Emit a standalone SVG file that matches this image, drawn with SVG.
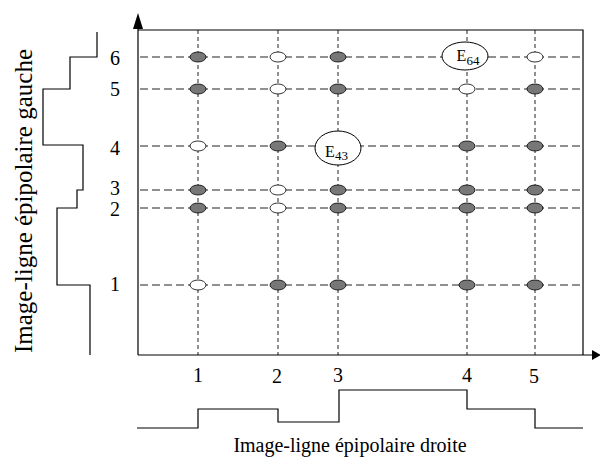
<svg xmlns="http://www.w3.org/2000/svg" width="600" height="458" viewBox="0 0 600 458">
  <style>
    .axis { stroke: #000; stroke-width: 1.2; fill: none; }
    .stair { stroke: #000; stroke-width: 1.2; fill: none; }
    .hgrid { stroke: #222; stroke-width: 1.1; stroke-dasharray: 8 4; fill: none; }
    .vgrid { stroke: #222; stroke-width: 1; stroke-dasharray: 4 3; fill: none; }
    .on { fill: #777; stroke: #000; stroke-width: 0.8; }
    .off { fill: #fff; stroke: #000; stroke-width: 0.8; }
    .big { fill: #fff; stroke: #000; stroke-width: 1; }
    .num { font-family: "Liberation Serif", "DejaVu Serif", serif; font-size: 20px; fill: #000; text-anchor: middle; }
    .title { font-family: "Liberation Serif", "DejaVu Serif", serif; fill: #000; text-anchor: middle; }
    .lbl { font-family: "Liberation Serif", "DejaVu Serif", serif; font-size: 16px; fill: #000; }
    .sub { font-family: "Liberation Serif", "DejaVu Serif", serif; font-size: 13px; fill: #000; }
  </style>

  <!-- grid of candidate matches -->
  <g id="grid">
    <path class="hgrid" d="M140 57H583M140 89H583M140 146H583M140 190H583M140 208H583M140 285H583"/>
    <path class="vgrid" d="M198 30V355M278 30V355M338 30V355M467 30V355M535 30V355"/>
  </g>

  <!-- frame and axes -->
  <g id="axes">
    <path class="axis" d="M138 355V27M138 30H583V355M138 355H593"/>
    <polygon points="138,13 133,29 143,29" fill="#000"/>
    <polygon points="601,355 592,350 592,360" fill="#000"/>
  </g>

  <!-- row 6 -->
  <g id="row6">
    <ellipse class="on" cx="198" cy="57" rx="8" ry="5"/>
    <ellipse class="off" cx="278" cy="57" rx="8" ry="5"/>
    <ellipse class="on" cx="338" cy="57" rx="8" ry="5"/>
    <ellipse class="off" cx="535" cy="57" rx="8" ry="5"/>
  </g>
  <g id="node-E64">
    <ellipse class="big" cx="465" cy="56" rx="23" ry="14"/>
    <text class="lbl" x="456.5" y="61">E</text>
    <text class="sub" x="466.5" y="64.5">64</text>
  </g>
  <!-- row 5 -->
  <g id="row5">
    <ellipse class="on" cx="198" cy="89" rx="8" ry="5"/>
    <ellipse class="off" cx="278" cy="89" rx="8" ry="5"/>
    <ellipse class="on" cx="338" cy="89" rx="8" ry="5"/>
    <ellipse class="off" cx="467" cy="89" rx="8" ry="5"/>
    <ellipse class="on" cx="535" cy="89" rx="8" ry="5"/>
  </g>
  <!-- row 4 -->
  <g id="row4">
    <ellipse class="off" cx="198" cy="146" rx="8" ry="5"/>
    <ellipse class="on" cx="278" cy="146" rx="8" ry="5"/>
    <ellipse class="on" cx="467" cy="146" rx="8" ry="5"/>
    <ellipse class="on" cx="535" cy="146" rx="8" ry="5"/>
  </g>
  <g id="node-E43">
    <ellipse class="big" cx="338" cy="148" rx="23" ry="17"/>
    <text class="lbl" x="325" y="157">E</text>
    <text class="sub" x="335" y="160">43</text>
  </g>
  <!-- row 3 -->
  <g id="row3">
    <ellipse class="on" cx="198" cy="190" rx="8" ry="5"/>
    <ellipse class="off" cx="278" cy="190" rx="8" ry="5"/>
    <ellipse class="on" cx="338" cy="190" rx="8" ry="5"/>
    <ellipse class="on" cx="467" cy="190" rx="8" ry="5"/>
    <ellipse class="on" cx="535" cy="190" rx="8" ry="5"/>
  </g>
  <!-- row 2 -->
  <g id="row2">
    <ellipse class="on" cx="198" cy="208" rx="8" ry="5"/>
    <ellipse class="off" cx="278" cy="208" rx="8" ry="5"/>
    <ellipse class="on" cx="338" cy="208" rx="8" ry="5"/>
    <ellipse class="on" cx="467" cy="208" rx="8" ry="5"/>
    <ellipse class="on" cx="535" cy="208" rx="8" ry="5"/>
  </g>
  <!-- row 1 -->
  <g id="row1">
    <ellipse class="off" cx="198" cy="285" rx="8" ry="5"/>
    <ellipse class="on" cx="278" cy="285" rx="8" ry="5"/>
    <ellipse class="on" cx="338" cy="285" rx="8" ry="5"/>
    <ellipse class="on" cx="467" cy="285" rx="8" ry="5"/>
    <ellipse class="on" cx="535" cy="285" rx="8" ry="5"/>
  </g>

  <!-- row indices -->
  <g id="row-labels">
    <text class="num" x="115" y="65">6</text>
    <text class="num" x="115" y="96">5</text>
    <text class="num" x="115" y="155">4</text>
    <text class="num" x="115" y="195">3</text>
    <text class="num" x="115" y="216">2</text>
    <text class="num" x="115" y="291">1</text>
  </g>
  <!-- column indices -->
  <g id="col-labels">
    <text class="num" x="198" y="382">1</text>
    <text class="num" x="277" y="383">2</text>
    <text class="num" x="338" y="382">3</text>
    <text class="num" x="467" y="382">4</text>
    <text class="num" x="534" y="383">5</text>
  </g>

  <!-- left epipolar line profile -->
  <g id="left-profile">
    <path class="stair" d="M97 32V57H70V89H43V145H83V190H77V208H57V285H90V355"/>
    <text class="title" font-size="25" transform="translate(32 201) rotate(-90)">Image-ligne épipolaire gauche</text>
  </g>
  <!-- right epipolar line profile -->
  <g id="right-profile">
    <path class="stair" d="M137 428H198V409H278V422H339V390H467V409H535V428H583"/>
    <text class="title" font-size="20" x="350" y="452">Image-ligne épipolaire droite</text>
  </g>
</svg>
